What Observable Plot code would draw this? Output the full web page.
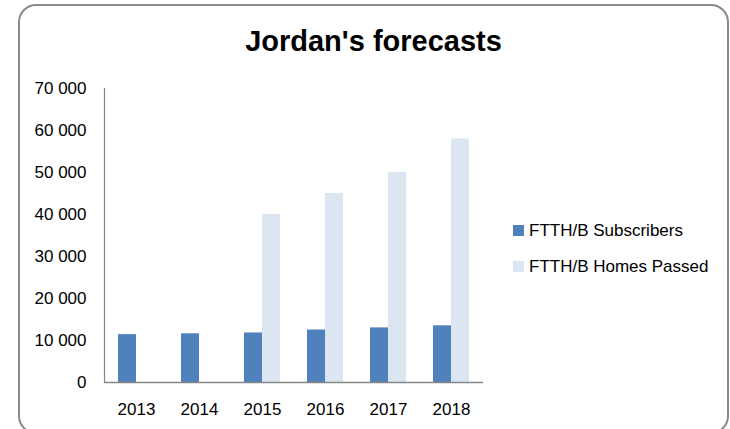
<!DOCTYPE html>
<html>
<head>
<meta charset="utf-8">
<script src="https://cdn.jsdelivr.net/npm/d3@7"></script>
<script src="https://cdn.jsdelivr.net/npm/@observablehq/plot@0.6"></script>
<style>
  html, body { margin: 0; padding: 0; background: #fff; }
  #wrap { position: relative; width: 730px; height: 429px; overflow: hidden; font-family: "Liberation Sans", Arial, sans-serif; }
  #box { position: absolute; left: 18px; top: 4px; width: 707px; height: 426px; border: 2px solid #8a8a8a; border-radius: 18px; }
  #title { position: absolute; left: 19px; width: 709px; top: 24px; text-align: center; font-size: 29px; font-weight: bold; color: #000; line-height: 34px; }
  #chart { position: absolute; left: 0; top: 0; }
  .leg { position: absolute; left: 513px; font-size: 17px; color: #000; line-height: 20px; white-space: nowrap; }
  .leg span.sw { display: inline-block; width: 11px; height: 11px; margin-right: 5px; vertical-align: 0px; }
</style>
</head>
<body>
<div id="wrap">
  <div id="box"></div>
  <div id="title">Jordan's forecasts</div>
  <div id="chart"></div>
  <div class="leg" style="top:221px"><span class="sw" style="background:#4F81BD"></span>FTTH/B Subscribers</div>
  <div class="leg" style="top:257px"><span class="sw" style="background:#DCE6F2"></span>FTTH/B Homes Passed</div>
</div>
<script>
const years = ["2013", "2014", "2015", "2016", "2017", "2018"];
const subscribers = [11400, 11600, 11800, 12500, 13000, 13500];
const homesPassed = [null, null, 40000, 45000, 50000, 58000];
const yTicks = [0, 10000, 20000, 30000, 40000, 50000, 60000, 70000];

const rows = years.map((y, i) => ({year: y, subs: subscribers[i], homes: homesPassed[i]}));
const fmt = d => d3.format(",")(d).replace(/,/g, " ");

const chart = Plot.plot({
  width: 500,
  height: 429,
  marginTop: 88,
  marginBottom: 47,
  marginLeft: 104,
  marginRight: 17,
  style: {fontFamily: "'Liberation Sans', Arial, sans-serif", fontSize: "17px", color: "#000", background: "transparent"},
  x: {domain: years, paddingInner: 0.43, paddingOuter: 0.215, label: null},
  y: {domain: [0, 70000], label: null},
  marks: [
    Plot.barY(rows, {x: "year", y: "subs", fill: "#4F81BD", insetRight: 18}),
    Plot.barY(rows.filter(d => d.homes != null), {x: "year", y: "homes", fill: "#DCE6F2", insetLeft: 18}),
    Plot.axisY(yTicks, {tickSize: 0, tickPadding: 18, tickFormat: fmt, fontSize: 17, fill: "#000"}),
    Plot.axisX({tickSize: 0, tickPadding: 20, fontSize: 17, fill: "#000"}),
    Plot.frame({anchor: "left", stroke: "#868686", strokeWidth: 1.2}),
    Plot.ruleY([0], {stroke: "#868686", strokeWidth: 1.5})
  ]
});
document.getElementById("chart").appendChild(chart);
</script>
</body>
</html>
